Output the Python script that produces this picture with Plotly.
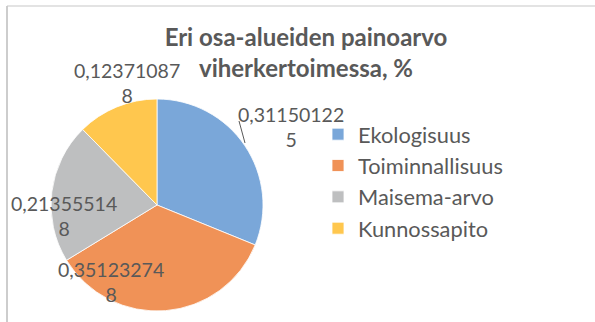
import plotly.graph_objects as go

# Share of each sub-area in the green factor
categories = ["Ekologisuus", "Toiminnallisuus", "Maisema-arvo", "Kunnossapito"]
weights = [0.311501225, 0.351232748, 0.213555148, 0.123710878]
slice_colors = ["#7AA7D9", "#F09257", "#BEBFC0", "#FFC74E"]

W, H = 595, 322
TEXT = "#595959"
FONT = "Lato"

# pixel helpers (figure has no margins, so paper == pixels)
def px(x):
    return x / W

def py(y):
    return 1 - y / H

# pie geometry in pixels
cx, cy, r = 157, 205, 106

# data label centres (pixels), one per category
label_pos = [(291, 127), (111, 282), (64, 216), (127, 83)]


def fmt_label(v):
    s = f"{v:.9f}".replace(".", ",")
    return s[:10] + "<br>" + s[10:]


fig = go.Figure(
    go.Pie(
        labels=categories,
        values=weights,
        sort=False,
        direction="clockwise",
        rotation=0,
        textinfo="none",
        hoverinfo="label+value",
        marker=dict(colors=slice_colors, line=dict(color="white", width=0.8)),
        domain=dict(x=[px(cx - r), px(cx + r)], y=[py(cy + r), py(cy - r)]),
    )
)

annotations = []
for v, (lx, ly) in zip(weights, label_pos):
    annotations.append(
        dict(
            x=px(lx), y=py(ly), xref="paper", yref="paper",
            text=fmt_label(v), showarrow=False, align="center",
            xanchor="center", yanchor="middle",
            font=dict(family=FONT, size=19.5, color=TEXT),
        )
    )

shapes = [
    # chart area frame
    dict(type="line", xref="paper", yref="paper", x0=px(7), x1=px(7), y0=0, y1=py(6),
         line=dict(color="#BDBDBD", width=1.5)),
    dict(type="line", xref="paper", yref="paper", x0=px(7), x1=1, y0=py(6), y1=py(6),
         line=dict(color="#C8C8C8", width=1.2)),
    # leader line for the first label
    dict(type="line", xref="paper", yref="paper", x0=px(239), x1=px(245), y0=py(121), y1=py(143),
         line=dict(color="#595959", width=1)),
]

fig.update_layout(
    width=W, height=H,
    margin=dict(l=0, r=0, t=0, b=0),
    paper_bgcolor="white",
    plot_bgcolor="white",
    title=dict(
        text="<b>Eri osa-alueiden painoarvo<br>viherkertoimessa, %</b>",
        x=px(306), xanchor="center", xref="paper",
        y=py(45.5), yanchor="middle", yref="container",
        font=dict(family=FONT, size=24, color=TEXT),
    ),
    showlegend=True,
    legend=dict(
        x=px(318), xanchor="left", y=py(113.5), yanchor="top",
        font=dict(family=FONT, size=21.8, color=TEXT),
        bgcolor="rgba(0,0,0,0)", itemclick=False, itemdoubleclick=False,
    ),
    annotations=annotations,
    shapes=shapes,
)

fig.write_html("out.html")
